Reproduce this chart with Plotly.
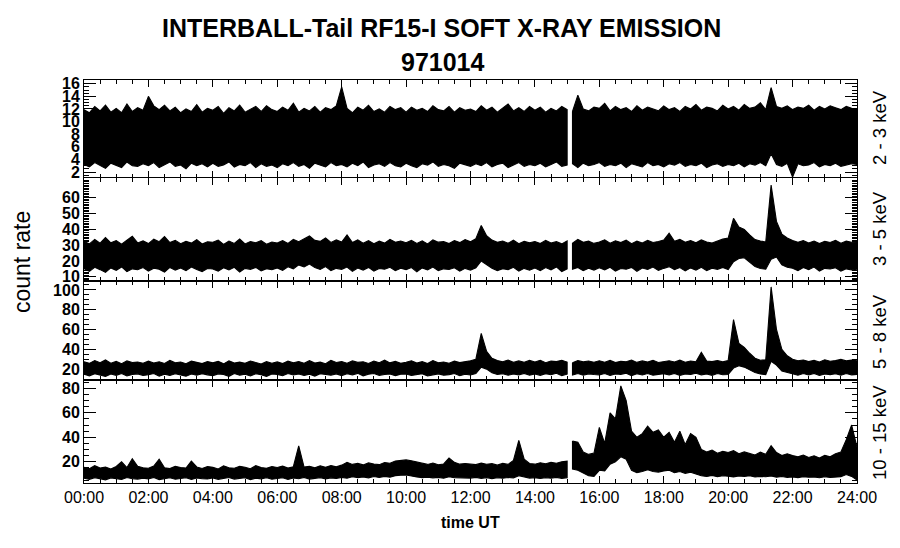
import plotly.graph_objects as go
from plotly.subplots import make_subplots

# ---------------- data (10-minute bins, 00:00 .. 24:00) ----------------
HOURS = [i / 6 for i in range(145)]
GAP_INDEX = 91          # telemetry gap between 15:00 and 15:10 UT
CHANNELS = ["2 - 3 keV", "3 - 5 keV", "5 - 8 keV", "10 - 15 keV"]
TICK_HOURS = list(range(0, 25, 2))
TICK_TEXT = ["%02d:00" % h for h in TICK_HOURS]

CH1_UP = [11.9, 11.4, 12.4, 11.7, 12.6, 11.5, 12.1, 11.4, 12.8, 11.6, 12.2, 11.8,
          14.0, 12.5, 11.9, 12.6, 11.7, 12.3, 11.4, 12.0, 11.6, 12.7, 11.5, 12.1,
          11.8, 12.4, 11.3, 12.2, 11.7, 12.6, 11.5, 12.0, 12.4, 11.6, 12.5, 11.9,
          11.6, 12.3, 11.8, 12.9, 11.5, 12.1, 11.7, 12.4, 11.5, 12.2, 11.9, 12.5,
          15.5, 12.1, 11.4, 12.3, 11.8, 12.6, 11.6, 12.0, 11.5, 12.4, 11.9, 12.2,
          11.5, 12.3, 11.8, 12.1, 11.6, 12.5, 11.9, 11.7, 12.4, 11.5, 12.2, 11.8,
          12.0, 11.6, 12.5, 11.8, 12.3, 11.5, 12.1, 12.8, 11.7, 12.2, 11.6, 12.4,
          11.8, 12.3, 11.5, 12.1, 11.7, 12.4, 11.9, 11.6, 14.2, 12.0, 11.7, 12.3,
          12.1, 12.9, 11.7, 12.4, 11.9, 12.2, 11.6, 12.5, 11.8, 12.3, 12.0, 11.7,
          12.5, 11.9, 12.2, 11.6, 12.4, 12.0, 12.7, 11.8, 12.3, 12.1, 11.7, 12.6,
          12.0, 12.4, 11.8, 12.7, 12.1, 12.3, 13.0, 11.9, 15.4, 12.4, 12.1, 12.5,
          11.9, 12.3, 12.1, 12.6, 11.8, 12.4, 12.0, 12.5, 12.2, 11.9, 12.4, 12.1,
          12.0]
CH1_LO = [3.2, 2.8, 3.5, 3.0, 2.6, 3.4, 3.1, 2.7, 3.6, 3.0, 2.9, 3.3,
          3.0, 3.5, 2.7, 3.2, 3.6, 2.9, 3.1, 2.5, 3.4, 3.0, 3.3, 2.8,
          3.4, 2.9, 3.1, 3.6, 2.8, 3.2, 3.0, 3.5, 2.7, 3.3, 2.9, 3.1,
          2.7, 3.3, 3.0, 3.5, 2.9, 3.2, 2.6, 3.4, 3.1, 2.8, 3.5, 3.0,
          3.2, 2.8, 3.4, 3.0, 3.6, 2.7, 3.1, 3.3, 2.9, 3.5, 3.0, 2.8,
          3.4, 3.0, 2.7, 3.3, 3.1, 3.6, 2.9, 3.2, 3.0, 2.6, 3.4, 3.1,
          2.9, 3.3, 3.0, 3.5, 2.8, 3.2, 3.4, 2.7, 3.1, 3.5, 2.9, 3.2,
          3.0, 3.4, 2.8, 3.2, 3.6, 2.9, 3.1, 3.3, 2.7, 3.4, 3.0, 3.2,
          3.5, 2.9, 3.2, 3.0, 3.4, 2.7, 3.3, 3.1, 2.8, 3.5, 3.0, 3.2,
          2.8, 3.3, 3.1, 3.5, 2.9, 3.2, 3.0, 3.4, 2.7, 3.1, 3.3, 2.9,
          3.2, 3.0, 3.4, 2.8, 3.3, 3.1, 3.5, 3.0, 4.9, 3.2, 2.9, 3.4,
          1.2, 3.3, 3.0, 3.1, 3.5, 2.8, 3.2, 3.0, 3.4, 2.9, 3.1, 3.3,
          3.2]

CH2_UP = [32.5, 30.8, 33.6, 31.2, 34.8, 31.5, 32.9, 30.6, 33.1, 35.6, 31.4, 32.7,
          31.0, 33.8, 32.2, 35.4, 31.6, 33.0, 30.9, 32.4, 31.3, 33.5, 30.7, 32.1,
          31.8, 33.2, 30.5, 32.6, 31.1, 33.9, 30.8, 32.3, 31.5, 32.8, 30.6, 32.0,
          31.4, 32.9, 31.0, 33.6, 32.2, 34.1, 35.8, 33.0, 32.4, 34.5, 31.7, 33.3,
          32.0, 36.5, 31.6, 33.4, 31.2, 32.8, 30.9, 32.5, 31.3, 33.7, 31.8, 32.6,
          31.5, 33.0, 31.1, 32.7, 30.8, 33.4, 31.9, 32.2, 31.0, 32.9, 31.6, 33.5,
          32.1, 34.0, 42.5, 36.0, 33.2, 31.8, 32.6, 31.2, 33.1, 30.9, 32.4, 31.5,
          32.3, 31.0, 33.0, 31.4, 32.2, 30.8, 32.7, 31.3, 33.6, 31.8, 32.5, 31.1,
          32.0, 33.4, 31.2, 32.8, 31.6, 33.1, 30.9, 32.5, 31.4, 33.0, 31.7, 32.3,
          33.2, 37.5, 32.4, 33.6, 31.8, 32.9, 31.5, 33.3, 32.0, 31.4, 32.7, 33.8,
          34.5, 47.0, 41.5, 40.0, 36.5, 33.5, 32.6, 32.0, 68.0, 45.0, 37.0, 34.5,
          33.0, 31.8, 32.9, 31.4, 32.6, 31.0, 32.4, 31.7, 33.1, 31.2, 32.5, 31.8,
          32.0]
CH2_LO = [15.2, 13.4, 16.0, 14.5, 12.8, 15.6, 14.1, 16.2, 13.2, 15.0, 14.4, 15.8,
          13.6, 15.4, 14.8, 12.9, 15.9, 14.2, 15.5, 13.8, 16.1, 14.6, 13.3, 15.2,
          14.9, 13.5, 15.7, 14.3, 16.0, 13.0, 15.3, 14.7, 15.9, 13.7, 15.1, 14.4,
          15.6, 14.0, 16.3, 15.0, 17.5, 16.2, 18.0, 15.8, 14.6, 16.4, 13.9, 15.3,
          14.7, 16.1, 13.4, 15.5, 14.2, 15.9, 13.6, 15.2, 14.8, 16.0, 13.8, 15.4,
          14.5, 15.8, 13.1, 15.6, 14.3, 16.1, 13.9, 15.0, 14.6, 15.7, 13.5, 15.3,
          14.2, 15.6, 20.0, 17.5, 15.4, 13.8, 15.1, 14.5, 16.0, 13.6, 15.3, 14.1,
          15.5, 13.9, 15.8, 14.4, 16.2, 13.3, 15.0, 14.7, 15.9, 13.8, 15.4, 14.2,
          15.7, 14.3, 16.0, 13.6, 15.2, 14.8, 15.9, 13.4, 15.5, 14.6, 16.1, 14.0,
          15.3, 16.4, 14.5, 15.8, 13.7, 15.6, 14.2, 16.0, 13.9, 15.4, 14.7, 15.9,
          14.6, 19.5, 21.5, 22.0, 19.0, 16.5, 15.2, 14.8, 21.0, 22.5, 17.5, 16.0,
          15.4, 13.8, 15.9, 14.5, 16.1, 13.6, 15.3, 14.9, 15.7, 13.5, 15.0, 14.3,
          14.8]

CH3_UP = [27.5, 25.8, 28.6, 26.4, 29.2, 26.0, 27.8, 25.5, 28.3, 26.7, 27.1, 25.9,
          28.0, 26.2, 27.4, 25.7, 28.8, 26.5, 27.2, 25.4, 28.1, 26.8, 25.6, 27.6,
          26.3, 27.9, 25.3, 28.4, 26.1, 27.0, 25.8, 28.2, 26.6, 25.2, 27.5, 26.0,
          27.3, 25.6, 28.0, 26.4, 27.7, 25.9, 28.5, 26.2, 27.0, 25.5, 28.9, 26.7,
          27.6, 26.0, 28.3, 26.8, 27.4, 25.7, 28.1, 26.5, 29.0, 26.3, 27.8, 25.8,
          26.9, 28.4, 26.1, 27.5, 25.6, 28.7, 26.4, 27.2, 25.9, 28.0, 26.6, 27.3,
          28.5, 30.0, 56.0, 38.0, 31.0, 28.6, 27.4, 29.1, 26.8, 28.3, 27.0, 28.8,
          27.2, 28.9, 26.5, 28.1, 27.6, 29.0, 27.1, 26.4, 28.7, 27.3, 28.2, 26.9,
          28.4, 27.0, 28.8, 26.6, 28.0, 27.5, 29.2, 26.8, 28.3, 27.1, 28.9, 26.7,
          27.9, 28.5, 27.2, 29.0, 26.9, 28.2, 27.4, 37.0, 28.1, 27.6, 28.7, 27.3,
          28.6, 70.0, 46.0, 42.0, 36.0, 31.0, 28.9, 29.5, 103.0, 60.0, 40.0, 33.5,
          30.0, 28.4, 29.2, 27.6, 28.8, 27.2, 29.5, 28.0, 28.6, 29.8, 28.3, 29.1,
          28.5]
CH3_LO = [14.8, 13.2, 15.4, 14.0, 12.5, 15.1, 13.7, 15.6, 13.0, 14.5, 15.2, 13.6,
          14.3, 15.5, 12.8, 14.9, 13.5, 15.3, 14.1, 12.9, 15.0, 13.8, 15.4, 14.2,
          13.4, 15.2, 14.6, 12.7, 15.5, 13.9, 14.8, 13.1, 15.3, 14.4, 12.6, 15.0,
          14.7, 13.3, 15.6, 14.0, 15.1, 13.6, 14.9, 13.0, 15.4, 14.3, 13.8, 15.2,
          13.5, 15.3, 14.2, 15.7, 13.2, 14.8, 15.5, 13.7, 14.6, 15.1, 13.4, 14.9,
          15.0, 13.6, 14.7, 15.4, 13.1, 14.5, 15.2, 13.9, 14.4, 15.6, 13.3, 14.8,
          14.1, 15.5, 22.0, 20.0, 16.2, 14.6, 15.3, 13.8, 15.0, 14.2, 15.7, 13.9,
          15.1, 13.7, 15.4, 14.3, 15.8, 13.5, 14.9, 14.0, 15.6, 13.8, 15.2, 14.5,
          14.2, 15.5, 13.6, 15.0, 14.7, 15.9, 13.4, 15.3, 14.1, 15.6, 13.9, 14.8,
          15.4, 14.0, 15.7, 13.6, 15.1, 14.5, 15.8, 14.2, 15.0, 13.7, 15.5, 14.3,
          14.6, 21.0, 23.5, 22.0, 19.0, 16.5, 15.0, 14.4, 28.0, 24.0, 18.0, 16.0,
          15.2, 13.8, 15.5, 14.1, 15.7, 13.6, 15.0, 14.4, 15.3, 13.9, 15.6, 14.2,
          14.6]

CH4_UP = [15.5, 14.2, 16.8, 14.9, 15.6, 14.0, 16.1, 20.0, 15.2, 22.5, 16.3, 15.0,
          14.7, 16.5, 22.0, 15.1, 14.4, 16.2, 15.3, 14.8, 20.5, 15.7, 14.5, 16.0,
          15.4, 14.1, 16.6, 15.0, 14.7, 16.3, 15.5, 14.3, 16.8, 15.2, 14.6, 16.0,
          15.3, 16.4, 14.8, 15.9, 33.0, 15.6, 16.2, 15.0, 16.7, 15.4, 16.9, 15.8,
          17.2, 19.5, 17.8, 18.6, 17.4, 19.0, 18.2, 17.6, 19.4, 18.8, 20.5, 21.0,
          21.5, 20.8, 19.6, 18.4, 17.8, 18.9, 17.5, 18.2, 23.0, 19.5, 18.0, 18.6,
          18.2, 17.6, 18.8, 17.9, 18.4, 17.2, 18.6, 17.8, 21.0, 37.5, 22.0, 18.5,
          18.0, 19.2, 18.4, 19.6, 18.8, 20.0, 20.5, 37.0, 36.0, 28.0, 26.0, 27.0,
          48.0, 35.0, 60.0, 55.0, 82.0, 70.0, 45.0, 40.0, 43.0, 49.0, 44.0, 46.0,
          40.0, 44.0, 36.0, 45.0, 34.0, 43.0, 40.0, 30.0, 28.0, 29.5, 27.0, 28.5,
          27.5, 29.0, 26.5, 28.0, 27.0, 25.5, 27.8, 26.0, 33.0, 27.5, 25.0, 26.5,
          25.0, 24.0, 25.5, 23.5, 24.8, 23.0, 25.2, 24.0, 26.5, 28.0, 38.0, 50.0,
          32.0]
CH4_LO = [6.5, 5.6, 7.0, 6.0, 5.2, 6.8, 6.2, 5.5, 7.1, 6.1, 5.8, 6.6,
          6.0, 7.2, 5.4, 6.4, 6.9, 5.7, 6.3, 7.0, 5.5, 6.7, 6.1, 5.9,
          6.8, 5.6, 6.5, 7.1, 5.8, 6.2, 6.9, 5.4, 6.6, 6.0, 7.0, 5.7,
          6.3, 6.9, 5.5, 6.7, 6.1, 7.2, 5.8, 6.4, 7.0, 6.0, 6.8, 6.3,
          7.2, 6.5, 7.8, 7.0, 7.5, 6.8, 7.9, 7.1, 8.0, 7.4, 8.6, 9.0,
          9.2, 8.5, 7.6, 7.0, 7.4, 6.8, 7.2, 6.5, 7.8, 6.9, 7.3, 6.7,
          6.6, 7.2, 6.4, 7.0, 6.2, 6.9, 6.5, 7.1, 6.8, 8.5, 7.4, 6.6,
          6.9, 6.3, 7.0, 6.5, 7.2, 6.4, 6.8, 14.0, 13.0, 11.0, 8.5, 8.0,
          13.0, 12.5, 18.0, 20.0, 24.0, 22.0, 13.0, 11.0, 12.0, 13.5, 12.0, 11.5,
          12.5, 13.0, 11.0, 12.0, 10.5, 11.5, 10.0, 8.5, 8.0, 8.8, 7.8, 8.5,
          8.2, 7.6, 8.4, 7.9, 8.6, 7.5, 8.0, 7.7, 8.3, 7.4, 7.9, 7.2,
          7.6, 7.0, 7.8, 7.3, 7.5, 6.9, 7.7, 7.1, 7.4, 7.8, 9.5, 8.0,
          5.0]

Y_RANGES = [[1.05, 16.6], [7.3, 72.5], [9.0, 109.0], [2.6, 86.8]]
Y_TICKS = [[2, 4, 6, 8, 10, 12, 14, 16], [10, 20, 30, 40, 50, 60],
           [20, 40, 60, 80, 100], [20, 40, 60, 80]]
Y_MINOR = [0.5, 1, 5, 5]

SERIES = [(CH1_UP, CH1_LO), (CH2_UP, CH2_LO), (CH3_UP, CH3_LO), (CH4_UP, CH4_LO)]


def band(upper, lower):
    xs, ys = [], []
    for a, b in [(0, GAP_INDEX), (GAP_INDEX, len(HOURS))]:
        t = HOURS[a:b]
        xs += t + t[::-1] + [t[0], None]
        ys += upper[a:b] + lower[a:b][::-1] + [upper[a], None]
    return xs, ys


FONT = "Liberation Sans, Arial, Helvetica, sans-serif"

# plot area in page pixels (reference): x 84..857, y 80..483
PX0, PW, PY1, PH = 84, 773, 483, 403


def px(X):
    return (X - PX0) / PW


def py(Y):
    return (PY1 - Y) / PH


fig = make_subplots(rows=4, cols=1, shared_xaxes=True, vertical_spacing=0,
                    row_heights=[98, 103, 99, 103])

for k, (up, lo) in enumerate(SERIES):
    xs, ys = band(up, lo)
    fig.add_trace(go.Scatter(x=xs, y=ys, mode="lines", fill="toself",
                             fillcolor="black",
                             line=dict(color="black", width=1.1),
                             hoverinfo="skip", showlegend=False),
                  row=k + 1, col=1)
    fig.update_yaxes(range=Y_RANGES[k], tickmode="array", tickvals=Y_TICKS[k],
                     ticks="inside", ticklen=12, tickwidth=1, tickcolor="black",
                     minor=dict(dtick=Y_MINOR[k], tick0=0, ticks="inside",
                                ticklen=5, tickcolor="black", tickwidth=1),
                     showline=True, linecolor="black", linewidth=1,
                     mirror="allticks", showgrid=False, zeroline=False,
                     tickfont=dict(family=FONT, size=16, color="black",
                                   weight="bold"),
                     row=k + 1, col=1)
    fig.update_xaxes(range=[0, 24], tickvals=TICK_HOURS, ticktext=TICK_TEXT,
                     ticks="inside", ticklen=7, tickwidth=1, tickcolor="black",
                     minor=dict(dtick=0.5, ticks="inside", ticklen=4,
                                tickcolor="black", tickwidth=1),
                     showline=True, linecolor="black", linewidth=1,
                     mirror="allticks", showgrid=False, zeroline=False,
                     tickfont=dict(family=FONT, size=16, color="black"),
                     row=k + 1, col=1)

# channel labels on the right
centers = [128, 229, 332, 433]
for name, yc in zip(CHANNELS, centers):
    fig.add_annotation(text=name, xref="paper", yref="paper",
                       x=px(879), y=py(yc), textangle=-90, showarrow=False,
                       font=dict(family=FONT, size=18.5, color="black"),
                       xanchor="center", yanchor="middle")

fig.add_annotation(text="count rate", xref="paper", yref="paper",
                   x=px(22), y=py(262), textangle=-90, showarrow=False,
                   font=dict(family=FONT, size=23, color="black"),
                   xanchor="center", yanchor="middle")
fig.add_annotation(text="<b>time UT</b>", xref="paper", yref="paper",
                   x=px(470), y=py(522), showarrow=False,
                   font=dict(family=FONT, size=16, color="black"),
                   xanchor="center", yanchor="middle")
fig.add_annotation(text="<b>INTERBALL-Tail RF15-I SOFT X-RAY EMISSION</b>",
                   xref="paper", yref="paper", x=px(441), y=py(28),
                   showarrow=False, font=dict(family=FONT, size=25, color="black"),
                   xanchor="center", yanchor="middle")
fig.add_annotation(text="<b>971014</b>", xref="paper", yref="paper",
                   x=px(443), y=py(62), showarrow=False,
                   font=dict(family=FONT, size=25, color="black"),
                   xanchor="center", yanchor="middle")

# the page body adds an 8 px margin, so the figure is drawn 8 px smaller
# and shifted back by that amount
BODY = 8
fig.update_layout(width=900 - BODY, height=548 - BODY,
                  margin=dict(l=PX0 - BODY, r=900 - (PX0 + PW), t=80 - BODY,
                              b=548 - PY1),
                  paper_bgcolor="white", plot_bgcolor="white",
                  font=dict(family=FONT, color="black"))

fig.write_html("out.html")
